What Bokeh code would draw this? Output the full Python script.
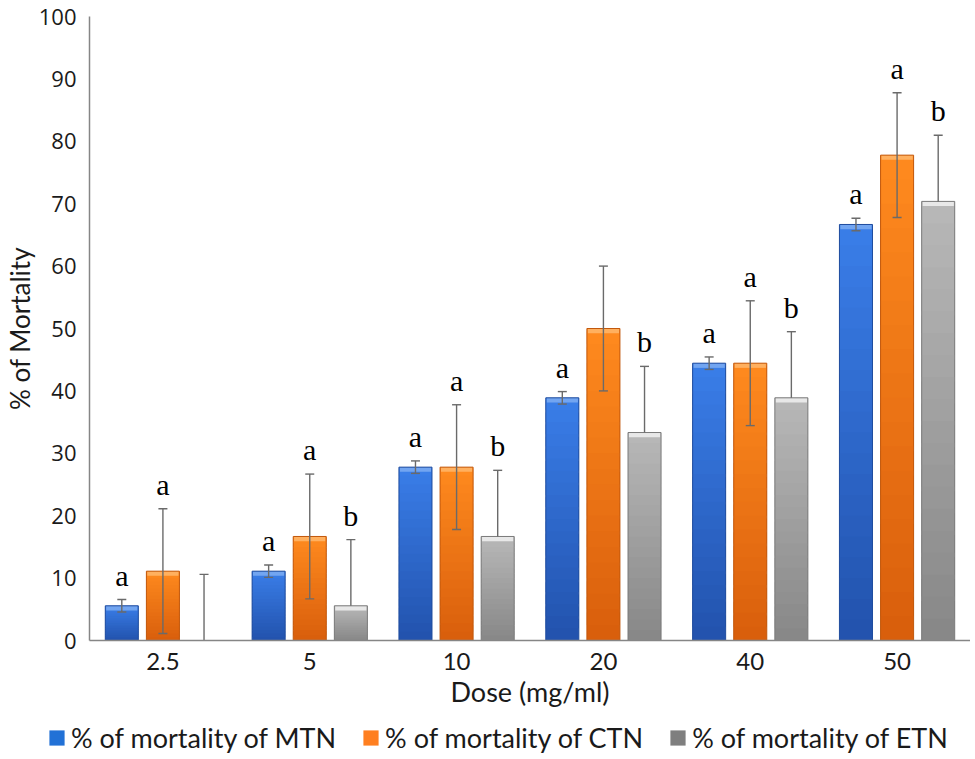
import numpy as np
from bokeh.plotting import figure
from bokeh.layouts import column
from bokeh.models import ColumnDataSource, FixedTicker, Range1d, Legend, LegendItem
from bokeh.core.properties import value
from bokeh.embed import file_html
from bokeh.resources import INLINE

# ---------------- data ----------------
doses = ["2.5", "5", "10", "20", "40", "50"]
series_names = ["% of mortality of MTN", "% of mortality of CTN", "% of mortality of ETN"]

mtn = [5.56, 11.11, 27.78, 38.89, 44.44, 66.67]
mtn_err = [1.0, 1.0, 1.0, 1.0, 1.0, 1.0]
ctn = [11.11, 16.67, 27.78, 50.0, 44.44, 77.78]
ctn_err = [10.0, 10.0, 10.0, 10.0, 10.0, 10.0]
etn = [0.0, 5.56, 16.67, 33.33, 38.89, 70.37]
etn_err = [10.6, 10.6, 10.6, 10.6, 10.6, 10.6]

mtn_letters = ["a", "a", "a", "a", "a", "a"]
ctn_letters = ["a", "a", "a", "", "a", "a"]
etn_letters = ["", "b", "b", "b", "b", "b"]

# ---------------- styling ----------------
offsets = [-0.28, 0.0, 0.28]
bar_w = 0.225
styles = [
    dict(top="#3a7ee8", bottom="#2252ad", rim="#79aaf2", border="#1f4c9e", legend="#2271d6"),
    dict(top="#ff8a1e", bottom="#d85e0c", rim="#ffb566", border="#c2580c", legend="#ff7f20"),
    dict(top="#b8b8b8", bottom="#878787", rim="#ededed", border="#7a7a7a", legend="#7f7f7f"),
]
err_color = "#6a6a6a"
SANS = "Lato"

p = figure(width=970, height=715, output_backend="svg", toolbar_location=None,
           x_range=Range1d(-0.5, len(doses) - 0.5), y_range=Range1d(0, 100),
           min_border_left=89, min_border_right=0, min_border_top=16, min_border_bottom=75)
p.frame_align = False
p.outline_line_color = None
p.xgrid.grid_line_color = None
p.ygrid.grid_line_color = None
p.background_fill_color = "white"
p.border_fill_color = "white"


def hex2rgb(h):
    h = h.lstrip("#")
    return np.array([int(h[i:i + 2], 16) for i in (0, 2, 4)], dtype=float)


def mix(c0, c1, t):
    c = hex2rgb(c0) * (1 - t) + hex2rgb(c1) * t
    return "#%02x%02x%02x" % tuple(int(round(v)) for v in c)


xs_base = np.arange(len(doses), dtype=float)
all_vals = [mtn, ctn, etn]
all_errs = [mtn_err, ctn_err, etn_err]
all_letters = [mtn_letters, ctn_letters, etn_letters]
n_bands = 20

for si, (vals, errs, letters, st) in enumerate(zip(all_vals, all_errs, all_letters, styles)):
    xs = xs_base + offsets[si]
    vals = np.array(vals, dtype=float)
    errs = np.array(errs, dtype=float)

    # gradient bands (overlapping to avoid seams)
    L, R, B, T, C = [], [], [], [], []
    for x, v in zip(xs, vals):
        if v <= 0:
            continue
        for k in range(n_bands):
            L.append(x - bar_w / 2)
            R.append(x + bar_w / 2)
            B.append(v * k / n_bands)
            T.append(min(v * (k + 1.8) / n_bands, v))
            C.append(mix(st["bottom"], st["top"], (k + 0.5) / n_bands))
    p.quad(left=L, right=R, bottom=B, top=T, fill_color=C, line_color=None)

    nz = vals > 0
    # top bevel rim
    p.quad(left=xs[nz] - bar_w / 2 + 0.006, right=xs[nz] + bar_w / 2 - 0.006,
           bottom=np.maximum(vals[nz] - 0.75, 0), top=vals[nz],
           fill_color=st["rim"], line_color=None, fill_alpha=0.9)
    # outline
    p.quad(left=xs[nz] - bar_w / 2, right=xs[nz] + bar_w / 2, bottom=0, top=vals[nz],
           fill_alpha=0, line_color=st["border"], line_width=1)

    # error bars
    upper = vals + errs
    if si < 2:
        lower = vals - errs
        p.segment(x0=xs, y0=lower, x1=xs, y1=upper, line_color=err_color, line_width=1.4)
        p.scatter(x=xs, y=lower, marker="dash", size=9, line_color=err_color, line_width=1.4)
    else:
        p.segment(x0=xs, y0=vals, x1=xs, y1=upper, line_color=err_color, line_width=1.4)
    p.scatter(x=xs, y=upper, marker="dash", size=9, line_color=err_color, line_width=1.4)

    # significance letters
    src = ColumnDataSource(dict(x=xs, y=upper, t=letters))
    p.text(x="x", y="y", text="t", source=src, text_align="center", text_baseline="bottom",
           y_offset=-8, text_font=value("Liberation Serif"), text_font_size="30px",
           text_color="black")

# axes
p.xaxis.ticker = FixedTicker(ticks=list(range(len(doses))))
p.xaxis.major_label_overrides = {i: d for i, d in enumerate(doses)}
p.xaxis.axis_label = "Dose (mg/ml)"
p.yaxis.ticker = FixedTicker(ticks=list(range(0, 101, 10)))
p.yaxis.axis_label = "% of Mortality"

for ax in (p.xaxis[0], p.yaxis[0]):
    ax.axis_line_color = "#868686"
    ax.axis_line_width = 1.5
    ax.major_tick_line_color = None
    ax.minor_tick_line_color = None
    ax.major_label_text_color = "#1a1a1a"
    ax.axis_label_text_color = "#1a1a1a"
    ax.axis_label_text_font_style = "normal"

p.xaxis.major_label_text_font = SANS
p.xaxis.major_label_text_font_size = "24px"
p.xaxis.major_label_standoff = 6
p.xaxis.axis_label_text_font = SANS
p.xaxis.axis_label_text_font_size = "27px"
p.xaxis.axis_label_standoff = 2

p.yaxis.major_label_text_font = "Open Sans"
p.yaxis.major_label_text_font_size = "22px"
p.yaxis.major_label_standoff = 7
p.yaxis.axis_label_text_font = SANS
p.yaxis.axis_label_text_font_size = "26px"
p.yaxis.axis_label_standoff = 0

# ---------------- legend strip ----------------
lg = figure(width=970, height=42, output_backend="svg", toolbar_location=None,
            x_axis_type=None, y_axis_type=None,
            x_range=Range1d(0, 1), y_range=Range1d(0, 1),
            min_border_left=0, min_border_right=0, min_border_top=0, min_border_bottom=0)
lg.frame_align = False
lg.outline_line_color = None
lg.xgrid.grid_line_color = None
lg.ygrid.grid_line_color = None
lg.border_fill_color = "white"

legend_items = []
for si, st in enumerate(styles):
    r = lg.vbar(x=[5.0], top=[5.0], bottom=[5.0], width=0.0,
                fill_color=st["legend"], line_color=None)
    legend_items.append(LegendItem(label=series_names[si], renderers=[r]))

legend = Legend(items=legend_items, orientation="horizontal", location=(47, 3),
                label_text_font=SANS, label_text_font_size="27px", label_text_color="#1a1a1a",
                glyph_width=19, glyph_height=19, label_standoff=5, spacing=25,
                padding=0, margin=0, border_line_color=None, background_fill_alpha=0,
                label_height=24)
lg.add_layout(legend, "center")

layout = column(p, lg, spacing=0)
open("out.html", "w").write(file_html(layout, INLINE))
